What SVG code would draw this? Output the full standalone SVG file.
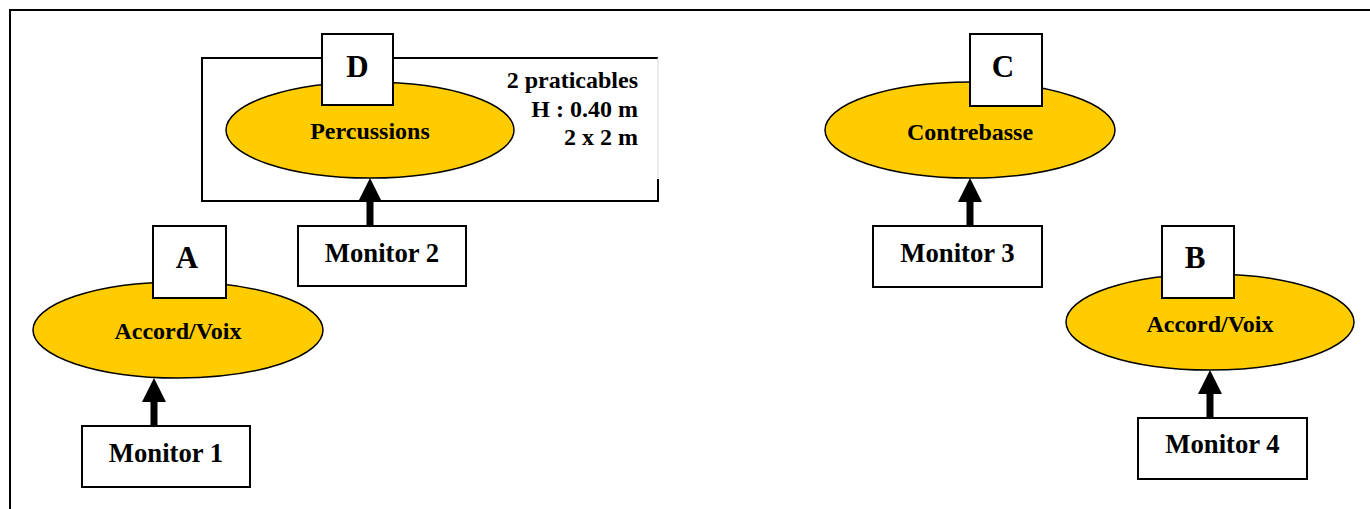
<svg xmlns="http://www.w3.org/2000/svg" width="1370" height="509" viewBox="0 0 1370 509">
<style>
.frame{fill:none;stroke:#000;stroke-width:2}
.ell{fill:#ffcc00;stroke:#000;stroke-width:1.5}
.box{fill:#fff;stroke:#000;stroke-width:2}
.t{font-family:"Liberation Serif","Times New Roman",serif;font-weight:bold;fill:#000;text-anchor:middle}
.lbl{font-size:24px}
.mon{font-size:26.7px}
.let{font-size:31px}
.note{font-family:"Liberation Serif","Times New Roman",serif;font-weight:bold;font-size:24px;text-anchor:end}
.arr{fill:#000}
</style>
<defs>
<path id="arrow" d="M-3.5,0 V-24 H-12 L0,-48 L12,-24 H3.5 V0 Z"/>
</defs>
<rect width="1370" height="509" fill="#fff"/>
<path class="frame" d="M10,509 V10 H1370"/>

<g id="praticables">
<path d="M658,179 V201 H202 V58 H658" fill="none" stroke="#000" stroke-width="2"/>
<line x1="658" y1="58" x2="658" y2="179" stroke="#d9d9d9" stroke-width="1"/>
<text class="note"><tspan x="638" y="88">2 praticables</tspan><tspan x="638" y="117">H : 0.40 m</tspan><tspan x="638" y="145">2 x 2 m</tspan></text>
</g>

<g id="node-D">
<ellipse class="ell" cx="370" cy="130" rx="144" ry="48"/>
<text class="t lbl" x="370" y="139">Percussions</text>
<rect class="box" x="322" y="34" width="71" height="71"/>
<text class="t let" x="357.5" y="77">D</text>
</g>

<g id="node-A">
<ellipse class="ell" cx="178" cy="330" rx="145" ry="48"/>
<text class="t lbl" x="178" y="339">Accord/Voix</text>
<rect class="box" x="153" y="226" width="73" height="72"/>
<text class="t let" x="187" y="268">A</text>
</g>

<g id="node-C">
<ellipse class="ell" cx="970" cy="130" rx="145" ry="48"/>
<text class="t lbl" x="970" y="140">Contrebasse</text>
<rect class="box" x="970" y="34" width="72" height="72"/>
<text class="t let" x="1003" y="77">C</text>
</g>

<g id="node-B">
<ellipse class="ell" cx="1210" cy="322" rx="144" ry="48"/>
<text class="t lbl" x="1210" y="332">Accord/Voix</text>
<rect class="box" x="1162" y="226" width="72" height="72"/>
<text class="t let" x="1195" y="268">B</text>
</g>

<g id="monitor-1">
<rect class="box" x="82" y="426" width="168" height="61"/>
<text class="t mon" x="166" y="462">Monitor 1</text>
</g>
<g id="monitor-2">
<rect class="box" x="298" y="226" width="168" height="60"/>
<text class="t mon" x="382" y="262">Monitor 2</text>
</g>
<g id="monitor-3">
<rect class="box" x="873" y="226" width="169" height="61"/>
<text class="t mon" x="957.5" y="262">Monitor 3</text>
</g>
<g id="monitor-4">
<rect class="box" x="1138" y="418" width="169" height="61"/>
<text class="t mon" x="1222.5" y="453">Monitor 4</text>
</g>

<g id="connectors" class="arr">
<use href="#arrow" transform="translate(154,426)"/>
<use href="#arrow" transform="translate(370,226)"/>
<use href="#arrow" transform="translate(970,226)"/>
<use href="#arrow" transform="translate(1210,418)"/>
</g>
</svg>
